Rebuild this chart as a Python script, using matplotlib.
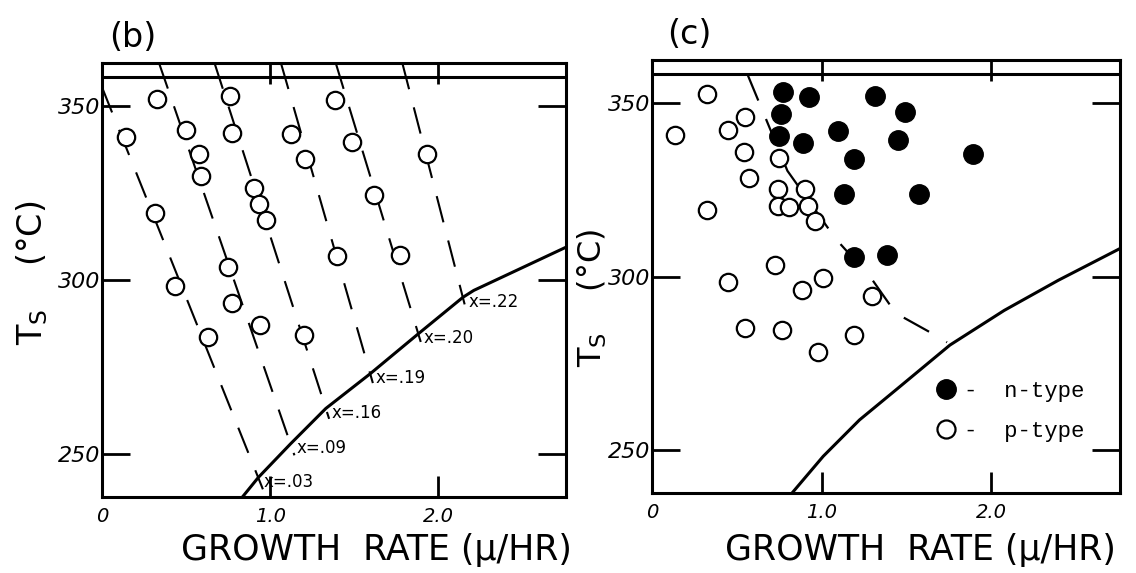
import matplotlib
matplotlib.use("Agg")
import matplotlib.pyplot as plt
from matplotlib.lines import Line2D

# ---------------- panel (b) ----------------
# substrate temperature vs growth rate, open circles sit on dashed iso-x lines
b_rate = [0.329, 0.142, 0.501, 0.576, 0.589, 0.762, 0.774, 0.904, 0.935, 0.974,
          1.126, 1.210, 1.386, 1.487, 1.932, 1.617, 1.771, 1.397, 0.313, 0.752,
          0.435, 0.776, 0.633, 0.941, 1.203]
b_temp = [352.2, 341.2, 343.3, 336.4, 329.9, 353.0, 342.4, 326.6, 321.8, 317.4,
          342.1, 334.9, 351.9, 339.7, 336.4, 324.4, 307.1, 306.8, 319.4, 303.7,
          298.3, 293.4, 283.7, 287.1, 284.2]

# dashed lines run from the top edge down to the solid curve
iso_labels = ["x=.03", "x=.09", "x=.16", "x=.19", "x=.20", "x=.22"]
iso_top_rate = [0.0, 0.339, 0.669, 1.064, 1.390, 1.786]
iso_top_temp = [355.5, 362.5, 362.5, 362.5, 362.5, 362.5]
iso_end_rate = [0.929, 1.121, 1.331, 1.595, 1.881, 2.146]
iso_end_temp = [243.1, 252.8, 263.0, 273.0, 284.5, 295.0]

b_curve_rate = [0.835, 0.929, 1.121, 1.331, 1.595, 1.881, 2.146, 2.211, 2.762]
b_curve_temp = [237.5, 243.1, 252.8, 263.0, 273.0, 284.5, 295.0, 297.0, 309.5]

# ---------------- panel (c) ----------------
n_rate = [0.771, 0.929, 1.314, 1.493, 0.760, 0.747, 0.893, 1.095, 1.452, 1.194,
          1.896, 1.132, 1.576, 1.192, 1.384]
n_temp = [353.4, 351.8, 352.2, 347.4, 346.8, 340.5, 338.6, 342.0, 339.3, 334.0,
          335.4, 323.9, 323.9, 305.5, 306.3]

p_rate = [0.327, 0.138, 0.449, 0.549, 0.540, 0.572, 0.747, 0.743, 0.904, 0.743,
          0.807, 0.918, 0.961, 0.327, 0.728, 1.010, 0.450, 0.882, 1.298, 0.550,
          0.765, 0.978, 1.192]
p_temp = [352.7, 340.8, 342.4, 346.0, 336.0, 328.5, 334.3, 325.2, 325.2, 320.4,
          320.1, 320.4, 316.1, 319.2, 303.4, 299.7, 298.3, 296.0, 294.5, 285.0,
          284.7, 278.2, 283.0]

# n/p boundary (dashed)
np_rate = [0.562, 0.799, 1.083, 1.290, 1.438, 1.651, 1.740]
np_temp = [358.5, 330.5, 310.9, 299.7, 289.4, 283.6, 281.0]

c_curve_rate = [0.828, 1.010, 1.224, 1.437, 1.757, 2.077, 2.396, 2.769]
c_curve_temp = [237.6, 248.1, 258.6, 267.2, 280.2, 290.2, 298.9, 308.3]

x_ticks = [0, 1, 2]
x_ticklabels = ["0", "1.0", "2.0"]
y_ticks = [250, 300, 350]

DASH = (13, 9)


def style_axes(ax):
    ax.set_xlim(0, 2.76)
    ax.set_ylim(237.5, 362.5)
    ax.set_xticks(x_ticks)
    ax.set_xticklabels(x_ticklabels)
    ax.set_yticks(y_ticks)
    for sp in ax.spines.values():
        sp.set_linewidth(2.2)
    ax.tick_params(axis="x", direction="in", top=True, length=15, width=2,
                   labelsize=14, pad=7)
    ax.tick_params(axis="y", direction="in", right=True, length=20, width=2,
                   labelsize=16, pad=1)
    for lab in ax.get_xticklabels() + ax.get_yticklabels():
        lab.set_fontstyle("italic")
    # second rule just under the top frame
    ax.axhline(358.5, color="k", lw=2.2)


fig = plt.figure(figsize=(11.36, 5.73), dpi=100)
ax_b = fig.add_axes([0.0898, 0.1326, 0.4085, 0.7575])
ax_c = fig.add_axes([0.5739, 0.1396, 0.4120, 0.7557])

# panel (b)
style_axes(ax_b)
for lab, tx, ty, ex, ey in zip(iso_labels, iso_top_rate, iso_top_temp,
                               iso_end_rate, iso_end_temp):
    # let the dash poke a little past the curve
    fx = ex + 0.03 * (ex - tx)
    fy = ey + 0.03 * (ey - ty)
    ln, = ax_b.plot([tx, fx], [ty, fy], color="k", lw=1.5, zorder=2)
    ln.set_dashes(DASH)
    ax_b.annotate(lab, (ex, ey), xytext=(4, -3), textcoords="offset points",
                  ha="left", va="center", fontsize=12)
ax_b.plot(b_curve_rate, b_curve_temp, color="k", lw=2.2, zorder=3)
ax_b.plot(b_rate, b_temp, ls="none", marker="o", ms=12.5, mfc="white",
          mec="k", mew=1.6, zorder=4)

# panel (c)
style_axes(ax_c)
ln, = ax_c.plot(np_rate, np_temp, color="k", lw=1.6, zorder=2)
ln.set_dashes(DASH)
ax_c.plot(c_curve_rate, c_curve_temp, color="k", lw=2.2, zorder=3)
ax_c.plot(p_rate, p_temp, ls="none", marker="o", ms=12.5, mfc="white",
          mec="k", mew=1.6, zorder=4)
ax_c.plot(n_rate, n_temp, ls="none", marker="o", ms=14, mfc="k",
          mec="k", zorder=5)

handles = [
    Line2D([], [], ls="none", marker="o", ms=14, mfc="k", mec="k"),
    Line2D([], [], ls="none", marker="o", ms=13, mfc="white", mec="k", mew=1.6),
]
ax_c.legend(handles, ["-  n-type", "-  p-type"], loc="center left",
            bbox_to_anchor=(0.605, 0.189), frameon=False, borderpad=0,
            borderaxespad=0, handlelength=1.0, handletextpad=0.3,
            labelspacing=0.85,
            prop={"family": "Liberation Mono", "size": 16})

# panel letters and axis titles
fig.text(0.117, 0.935, "(b)", fontsize=24, ha="center", va="center")
fig.text(0.6065, 0.939, "(c)", fontsize=24, ha="center", va="center")
for xc in (0.331, 0.81):
    fig.text(xc, 0.040, "GROWTH  RATE (\u03bc/HR)", fontsize=25,
             ha="center", va="center")
fig.text(0.028, 0.524, "T$_\\mathrm{S}$    (\u00b0C)", rotation=90,
         fontsize=24, ha="center", va="center")
fig.text(0.521, 0.48, "T$_\\mathrm{S}$    (\u00b0C)", rotation=90,
         fontsize=23, ha="center", va="center")

fig.savefig("out.png", dpi=100, facecolor="white")
